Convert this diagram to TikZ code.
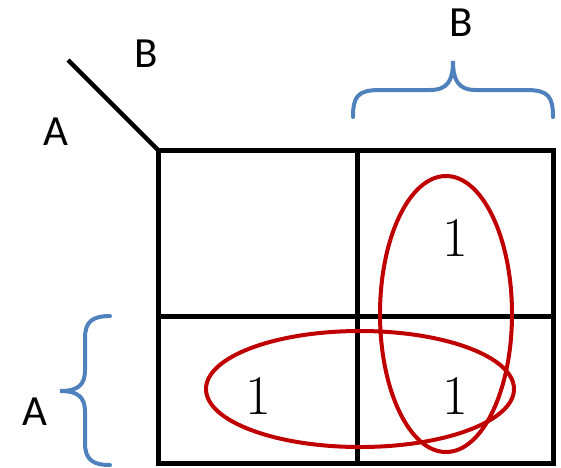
\documentclass[tikz,border=0pt]{standalone}
\usepackage{fontspec}
\newfontfamily\labelfont{Carlito}
\usetikzlibrary{positioning}
\definecolor{bracecol}{RGB}{79,129,189}
\definecolor{loopcol}{RGB}{192,0,0}
\tikzset{
    gridline/.style={line width=5pt, black},
    varlabel/.style={inner sep=0pt, font=\labelfont\fontsize{43}{46}\selectfont},
    cellone/.style={inner sep=0pt, font=\fontsize{56}{60}\selectfont},
    bracket/.style={line width=4pt, bracecol, line cap=round},
    groupring/.style={line width=4pt, loopcol}
}
\begin{document}
\begin{tikzpicture}[x=1pt, y=-1pt]
    \useasboundingbox (0,0) rectangle (561,467);

    % Grid
    \draw[gridline] (158,150) rectangle (553,463);
    \draw[gridline] (357,150) -- (357,463);
    \draw[gridline] (158,316) -- (553,316);

    % Corner line and variables
    \coordinate (corner) at (158,150);
    \coordinate (diagend) at (68,60);
    \draw[gridline, line width=4.5pt] (diagend) -- (corner);
    \node[varlabel] (B1) at (146,54) {B};
    \node[varlabel] (A1) at (56,132) {A};

    % Braces
    \node[varlabel] (B2) at (461,23) {B};
    \draw[bracket] (353,117) .. controls (353,96) and (358,90) .. (380,90)
        -- (430,90) .. controls (448,90) and (453,80) .. (453,61)
        .. controls (453,80) and (458,90) .. (476,90)
        -- (526,90) .. controls (548,90) and (553,96) .. (553,117);
    \node[varlabel] (A2) at (35,412) {A};
    \draw[bracket] (110,316) .. controls (92,316) and (85,322) .. (85,338)
        -- (85,370) .. controls (85,385) and (78,391) .. (60,391)
        .. controls (78,391) and (85,397) .. (85,412)
        -- (85,443) .. controls (85,459) and (92,465) .. (110,465);

    % Ones
    \node[cellone] (one11) at (455,238) {1};
    \node[cellone] (one10) at (258,396) {1};
    \node[cellone] (one01) at (455,396) {1};

    % Groups
    \draw[groupring] (446,314) ellipse [x radius=66, y radius=138];
    \draw[groupring] (360,389) ellipse [x radius=154, y radius=58];
\end{tikzpicture}
\end{document}
